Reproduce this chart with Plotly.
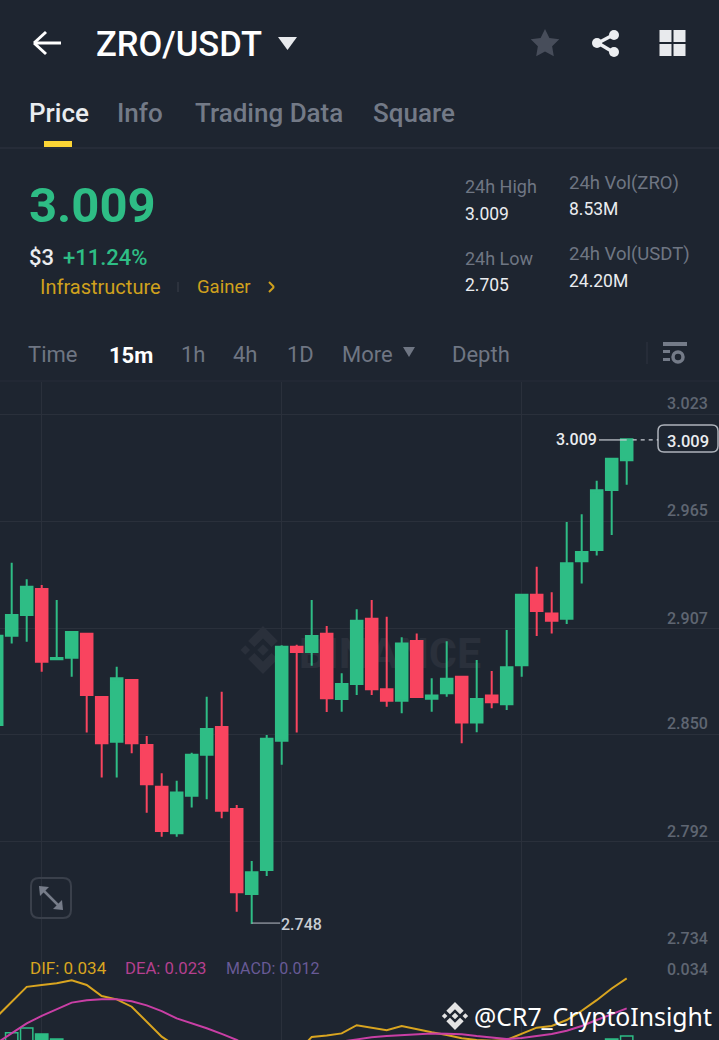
import math
import plotly.graph_objects as go

W, H = 719, 1040
BG = '#1E2530'
GRID = '#2A303B'
GREEN = '#2EBD85'
RED = '#F9445F'
GOLD = '#D9A520'
PINK = '#C93FA5'
GREY = '#737A87'
LIGHT = '#EAECEF'
FONT = 'Roboto'

# candles, left to right
candle_index = list(range(43))
opens = [2.8550, 2.9032, 2.9144, 2.9285, 2.8905, 2.8914, 2.9043, 2.8701, 2.8460, 2.8793, 2.8442,
         2.8217, 2.7965, 2.8168, 2.8389, 2.8539, 2.8096, 2.7637, 2.7767, 2.8465, 2.8973, 2.8944,
         2.9043, 2.8690, 2.8771, 2.9124, 2.8743, 2.8681, 2.9004, 2.8692, 2.8721, 2.8811, 2.8563,
         2.8710, 2.8662, 2.8873, 2.9254, 2.9153, 2.9124, 2.9435, 2.9495, 2.9820, 2.9980]
highs = [2.9035, 2.9426, 2.9337, 2.9306, 2.9225, 2.9052, 2.9043, 2.8701, 2.8865, 2.8793, 2.8491,
         2.8289, 2.8249, 2.8400, 2.8703, 2.8730, 2.8118, 2.7816, 2.8496, 2.8981, 2.8984, 2.9225,
         2.9085, 2.8829, 2.9175, 2.9225, 2.9135, 2.9024, 2.9045, 2.8802, 2.9002, 2.8811, 2.8901,
         2.8842, 2.9063, 2.9254, 2.9405, 2.9267, 2.9647, 2.9688, 2.9870, 2.9988, 3.0094]
lows = [2.8550, 2.8991, 2.9000, 2.8838, 2.8905, 2.8811, 2.8509, 2.8267, 2.8267, 2.8397, 2.8076,
        2.7947, 2.7947, 2.8105, 2.8149, 2.8046, 2.7541, 2.7475, 2.7734, 2.8335, 2.8509, 2.8870,
        2.8620, 2.8621, 2.8712, 2.8712, 2.8649, 2.8613, 2.8701, 2.8621, 2.8703, 2.8451, 2.8511,
        2.8640, 2.8631, 2.8811, 2.9031, 2.9045, 2.9096, 2.9315, 2.9466, 2.9576, 2.9848]
closes = [2.9032, 2.9144, 2.9297, 2.8892, 2.8912, 2.9052, 2.8712, 2.8451, 2.8802, 2.8451, 2.8230,
          2.7978, 2.8186, 2.8389, 2.8528, 2.8087, 2.7646, 2.7755, 2.8476, 2.8973, 2.8944, 2.9031,
          2.8694, 2.8771, 2.9113, 2.8743, 2.8681, 2.8991, 2.8701, 2.8710, 2.8800, 2.8563, 2.8690,
          2.8673, 2.8862, 2.9254, 2.9166, 2.9113, 2.9424, 2.9484, 2.9818, 2.9988, 3.0094]

# MACD pane
dif = [.0199, .0254, .0309, .0316, .0322, .0333, .0316, .0275, .0263, .0236, .0181, .0126, .0089,
       .0040, -.0008, -.0057, -.0106, -.0131, -.0106, -.0033, .0065, .0125, .0130, .0138, .0168,
       .0159, .0150, .0165, .0153, .0142, .0132, .0120, .0114, .0111, .0114, .0138, .0159, .0165,
       .0187, .0221, .0260, .0303, .0340]
dea = [.0102, .0138, .0175, .0202, .0227, .0251, .0260, .0263, .0263, .0256, .0241, .0220, .0193,
       .0175, .0157, .0136, .0114, .0083, .0065, .0059, .0065, .0077, .0092, .0108, .0116, .0124,
       .0128, .0132, .0136, .0138, .0137, .0135, .0128, .0122, .0117, .0121, .0128, .0136, .0148,
       .0165, .0187, .0209, .0230]
hist_index = [1, 2, 3, 4, 41, 42]
hist_values = [.0140, .0158, .0136, .0117, .0117, .0128]
hist_hollow = [True, True, False, False, False, True]

price_ticks = [3.023, 2.965, 2.907, 2.850, 2.792, 2.734]
time_grid = [3, 19, 35]
last_price = 3.009
low_price = 2.748
low_index = 17


def px(x):
    return x / W


def py(y):
    return 1 - y / H


def label(x, y, text, size, color, weight=400, anchor='left', family=FONT):
    return dict(x=px(x), y=py(y), xref='paper', yref='paper', text=text, showarrow=False,
                xanchor=anchor, yanchor='middle', borderpad=0,
                font=dict(family=family, size=size, color=color, weight=weight))


def poly(points, color, layer='above'):
    path = 'M' + ' L'.join(f'{px(a):.5f},{py(b):.5f}' for a, b in points) + ' Z'
    return dict(type='path', xref='paper', yref='paper', path=path, fillcolor=color,
                line=dict(width=0), layer=layer)


def seg(x0, y0, x1, y1, color, width=2, dash='solid', layer='above'):
    return dict(type='line', xref='paper', yref='paper', x0=px(x0), y0=py(y0), x1=px(x1), y1=py(y1),
                line=dict(color=color, width=width, dash=dash), layer=layer)


def rect(x0, y0, x1, y1, color):
    return dict(type='rect', xref='paper', yref='paper', x0=px(x0), y0=py(y0), x1=px(x1), y1=py(y1),
                fillcolor=color, line=dict(width=0))


def circle(cx, cy, r, fill, line_color=None, line_width=0):
    return dict(type='circle', xref='paper', yref='paper', x0=px(cx - r), y0=py(cy - r), x1=px(cx + r),
                y1=py(cy + r), fillcolor=fill, line=dict(color=line_color, width=line_width))


def round_box(x0, y0, x1, y1, r, color, width):
    p = [('M', x0 + r, y0), ('L', x1 - r, y0), ('Q', x1, y0, x1, y0 + r), ('L', x1, y1 - r),
         ('Q', x1, y1, x1 - r, y1), ('L', x0 + r, y1), ('Q', x0, y1, x0, y1 - r), ('L', x0, y0 + r),
         ('Q', x0, y0, x0 + r, y0)]
    out = ''
    for part in p:
        nums = part[1:]
        coords = [f'{px(nums[i]):.5f},{py(nums[i + 1]):.5f}' for i in range(0, len(nums), 2)]
        out += part[0] + ' '.join(coords) + ' '
    return dict(type='path', xref='paper', yref='paper', path=out + 'Z', fillcolor='rgba(0,0,0,0)',
                line=dict(color=color, width=width))


def binance_logo(cx, cy, r, color, layer='above'):
    shapes = []
    chevron = [(0, -1), (.62, -.38), (.36, -.12), (0, -.48), (-.36, -.12), (-.62, -.38)]
    shapes.append(poly([(cx + a * r, cy + b * r) for a, b in chevron], color, layer))
    shapes.append(poly([(cx + a * r, cy - b * r) for a, b in chevron], color, layer))
    for dx in (-.74, 0, .74):
        d = .24 if dx == 0 else .2
        shapes.append(poly([(cx + dx * r, cy - d * r), (cx + dx * r + d * r, cy),
                            (cx + dx * r, cy + d * r), (cx + dx * r - d * r, cy)], color, layer))
    return shapes


fig = go.Figure()

fig.add_trace(go.Candlestick(
    x=candle_index, open=opens, high=highs, low=lows, close=closes,
    increasing=dict(line=dict(color=GREEN, width=2), fillcolor=GREEN),
    decreasing=dict(line=dict(color=RED, width=2), fillcolor=RED),
    whiskerwidth=0, xaxis='x', yaxis='y', showlegend=False, hoverinfo='skip'))

fig.add_trace(go.Bar(
    x=hist_index, y=hist_values, xaxis='x2', yaxis='y2', width=0.82, showlegend=False,
    marker=dict(color=['rgba(0,0,0,0)' if h else GREEN for h in hist_hollow],
                line=dict(color=GREEN, width=1.5))))
fig.add_trace(go.Scatter(x=candle_index, y=dif, mode='lines', xaxis='x2', yaxis='y2',
                         line=dict(color=GOLD, width=2), showlegend=False))
fig.add_trace(go.Scatter(x=candle_index, y=dea, mode='lines', xaxis='x2', yaxis='y2',
                         line=dict(color=PINK, width=2), showlegend=False))

x_range = [0.22, 48.153]
axis_x = dict(range=x_range, tickvals=time_grid, showticklabels=False, ticks='', showgrid=True,
              gridcolor=GRID, gridwidth=1, zeroline=False, showline=False, rangeslider=dict(visible=False))

annotations = [
    label(95, 44, 'ZRO/USDT', 34.5, '#FFFFFF', 500),
    label(28, 113, 'Price', 26, LIGHT, 500),
    label(116, 113, 'Info', 26, GREY, 500),
    label(194, 113, 'Trading Data', 26, GREY, 500),
    label(372, 113, 'Square', 26, GREY, 500),
    label(28, 206, '3.009', 49, GREEN, 700),
    label(28, 257, '$3', 22, LIGHT, 500),
    label(62, 257, '+11.24%', 22, GREEN, 500),
    label(39, 287, 'Infrastructure', 20, '#D0A11D'),
    label(196, 287, 'Gainer', 18.5, '#D0A11D'),
    label(464, 186, '24h High', 18, '#6F7683'),
    label(464, 214, '3.009', 17.5, LIGHT),
    label(464, 258, '24h Low', 18, '#6F7683'),
    label(464, 285, '2.705', 17.5, LIGHT),
    label(568, 183, '24h Vol(ZRO)', 18.5, '#6F7683'),
    label(568, 209, '8.53M', 17.5, LIGHT),
    label(568, 254, '24h Vol(USDT)', 18.5, '#6F7683'),
    label(568, 281, '24.20M', 17.5, LIGHT),
    label(27, 354, 'Time', 22, '#6F7683'),
    label(108, 355, '15m', 22, '#FFFFFF', 700),
    label(180, 354, '1h', 22, '#6F7683'),
    label(232, 354, '4h', 22, '#6F7683'),
    label(286, 354, '1D', 22, '#6F7683'),
    label(341, 354, 'More', 22, '#6F7683'),
    label(451, 354, 'Depth', 22, '#6F7683'),
    label(709, 969, '0.034', 16, '#5F6672', 500, 'right'),
    label(29, 968, 'DIF: 0.034', 17, GOLD),
    label(124, 968, 'DEA: 0.023', 16.7, '#B5408F'),
    label(225, 968, 'MACD: 0.012', 16, '#685A96'),
    label(473, 1016, '@CR7_CryptoInsight', 24.8, '#FFFFFF', 400, family='Noto Sans'),
    label(688, 441, f'{last_price:.3f}', 16.5, LIGHT, 500, 'center'),
]

# price scale labels sit just above their gridline
for tick in price_ticks:
    annotations.append(dict(x=px(709), xref='paper', y=tick, yref='y', text=f'{tick:.3f}', showarrow=False,
                            xanchor='right', yanchor='bottom', yshift=0, borderpad=0,
                            font=dict(family=FONT, size=16, color='#5F6672', weight=500)))
annotations.append(dict(x=38.65, xref='x', y=last_price, yref='y', text=f'{last_price:.3f}', showarrow=False,
                        xanchor='center', yanchor='middle', borderpad=0,
                        font=dict(family=FONT, size=16, color=LIGHT, weight=500)))
annotations.append(dict(x=low_index + 1.9, xref='x', y=low_price, yref='y', yshift=-1, text=f'{low_price:.3f}',
                        showarrow=False, xanchor='left', yanchor='middle', borderpad=0,
                        font=dict(family=FONT, size=16, color='#C9CDD4', weight=500)))

shapes = [
    # dividers
    seg(0, 148, W, 148, '#2F3540', 1),
    seg(0, 381, W, 381, '#272D38', 1),
    rect(44, 141, 72, 147, '#FCD535'),
    seg(178, 282, 178, 292, '#3A404B', 1),
    # back arrow
    seg(34, 43, 61, 43, '#FFFFFF', 3),
    seg(34, 43, 46, 32, '#FFFFFF', 3),
    seg(34, 43, 46, 54, '#FFFFFF', 3),
    # title caret
    poly([(278, 37), (297, 37), (287.5, 50)], '#E8EAED'),
    # star
    poly([(545 + (15 if k % 2 == 0 else 7.5) * math.sin(k * math.pi / 5),
           44 - (15 if k % 2 == 0 else 7.5) * math.cos(k * math.pi / 5)) for k in range(10)], '#474D5A'),
    # share
    seg(598, 43, 613, 35, '#ECEEF1', 3.5),
    seg(598, 43, 613, 52, '#ECEEF1', 3.5),
    circle(614, 35, 5, '#ECEEF1'),
    circle(614, 52, 5, '#ECEEF1'),
    circle(597, 43, 5, '#ECEEF1'),
    # layout squares
    rect(659.5, 30, 671.5, 42, '#E8EAED'),
    rect(673.5, 30, 685.5, 42, '#E8EAED'),
    rect(659.5, 44, 671.5, 56, '#E8EAED'),
    rect(673.5, 44, 685.5, 56, '#E8EAED'),
    # gainer chevron
    seg(269, 282, 274, 287, '#D0A11D', 2),
    seg(274, 287, 269, 292, '#D0A11D', 2),
    # more caret
    poly([(403, 347), (415, 347), (409, 357)], '#6F7683'),
    # settings icon
    seg(647, 342, 647, 364, '#2F3540', 1),
    rect(663, 342, 687, 346, '#747B88'),
    rect(663, 350, 670, 353, '#747B88'),
    rect(663, 358, 670, 361, '#747B88'),
    circle(678, 357, 5, 'rgba(0,0,0,0)', '#747B88', 3.5),
    # expand button
    round_box(31, 878, 71, 918, 8, '#3A404B', 2),
    seg(42, 889, 60, 907, '#767C89', 2.5),
    poly([(39, 886), (49, 887), (40, 896)], '#767C89'),
    poly([(63, 910), (53, 909), (62, 900)], '#767C89'),
    # price box
    round_box(658, 425, 718, 452, 6, '#AEB3BB', 1.5),
    # extreme markers, in data coordinates
    dict(type='line', xref='x', yref='y', x0=40.15, x1=42, y0=last_price, y1=last_price,
         line=dict(color='#C9CDD4', width=1.2)),
    dict(type='line', xref='x', yref='y', x0=42.4, x1=44.1, y0=last_price, y1=last_price,
         line=dict(color='#C9CDD4', width=1.2, dash='4px,4px')),
    dict(type='line', xref='x', yref='y', x0=low_index, x1=low_index + 1.9, y0=low_price, y1=low_price,
         line=dict(color='#A0A5AE', width=1.2)),
    # watermark behind candles
    dict(type='rect', xref='paper', yref='paper', x0=px(300), x1=px(480), y0=py(675), y1=py(625),
         layer='below', fillcolor='rgba(0,0,0,0)', line=dict(width=0),
         label=dict(text='BINANCE', textposition='middle center',
                    font=dict(family=FONT, size=43, color='#2A303B', weight=700))),
]
shapes += binance_logo(263, 650, 24, '#2A303B', 'below')
shapes += binance_logo(455, 1016, 14, '#E4E4E4')

fig.update_layout(
    width=W, height=H,
    margin=dict(l=0, r=0, t=0, b=0),
    paper_bgcolor=BG, plot_bgcolor=BG,
    font=dict(family=FONT),
    boxgap=0.23,
    boxgroupgap=0,
    xaxis=dict(axis_x, domain=[0, 1], anchor='y'),
    xaxis2=dict(axis_x, domain=[0, 1], anchor='y2'),
    yaxis=dict(domain=[1 - 949 / H, 1 - 382 / H], range=[2.734, 3.0403], tickvals=price_ticks,
               showticklabels=False, showgrid=True, gridcolor=GRID, zeroline=False, showline=False, anchor='x'),
    yaxis2=dict(domain=[0, 1 - 949 / H], range=[.01137, .0448], showgrid=False, showticklabels=False,
                zeroline=False, showline=False, anchor='x2'),
    annotations=annotations,
    shapes=shapes,
    showlegend=False,
)

fig.write_html("out.html", config=dict(displayModeBar=False),
               post_script="document.body.style.margin='0';document.body.style.background='#1E2530';")
